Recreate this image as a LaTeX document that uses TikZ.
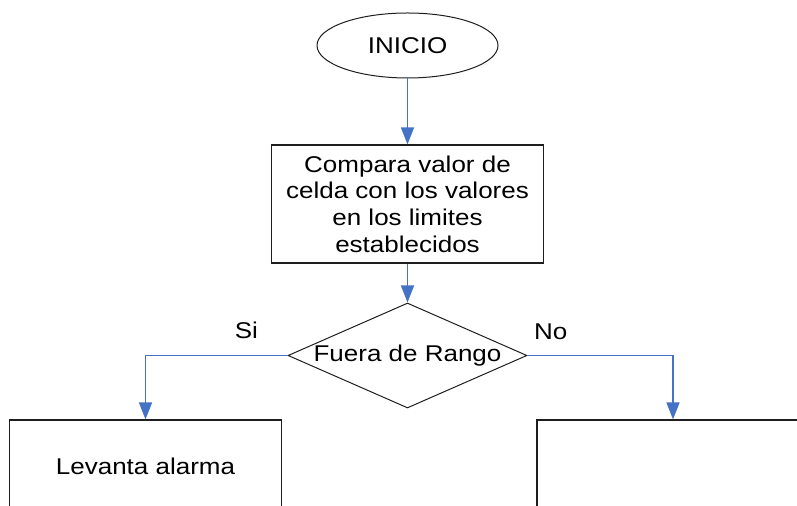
\documentclass[tikz,border=0pt]{standalone}
\usepackage{fontspec}
\setmainfont{Liberation Sans}[FakeStretch=1.14]
\usepackage{tikz}
\usetikzlibrary{shapes.geometric,arrows.meta}
\definecolor{flowline}{RGB}{68, 114, 196}
\definecolor{outline}{RGB}{30, 30, 30}

\begin{document}
\begin{tikzpicture}[x=0.5pt,y=-0.5pt,
  every node/.style={font=\fontsize{11.4}{13.3}\selectfont,align=center,inner sep=0pt,text=black},
  procbox/.style={draw=outline,line width=0.6pt,minimum width=136pt,minimum height=59pt},
  flow/.style={flowline,line width=0.8pt,-{Triangle[length=8.5pt,width=6.5pt]}}]
\useasboundingbox (0,0) rectangle (797,506);
\clip (0,0) rectangle (797,506);
\node[draw=outline,line width=0.5pt,ellipse,minimum width=90.5pt,minimum height=32.5pt] (inicio) at (407.5,45.5) {INICIO};
\node[procbox] (compara) at (407.5,204) {Compara valor de\\celda con los valores\\en los limites\\establecidos};
\node[draw=outline,line width=0.5pt,diamond,aspect=2.28,minimum width=119.5pt,minimum height=52.5pt] (rango) at (407.5,355.5) {Fuera de Rango};
\node[procbox,minimum height=46pt] (alarma) at (145.5,466) {Levanta alarma};
\node[procbox,minimum height=46pt] (fuera) at (673,466) {};
\draw[flow] (inicio) -- (compara);
\draw[flow] (compara) -- (rango);
\draw[flow] (rango.west) -| node[pos=0.145,above=7.75pt] (si) {Si} (alarma.north);
\draw[flow] (rango.east) -| node[pos=0.08,above=7.25pt] (no) {No} (fuera.north);
\end{tikzpicture}
\end{document}
